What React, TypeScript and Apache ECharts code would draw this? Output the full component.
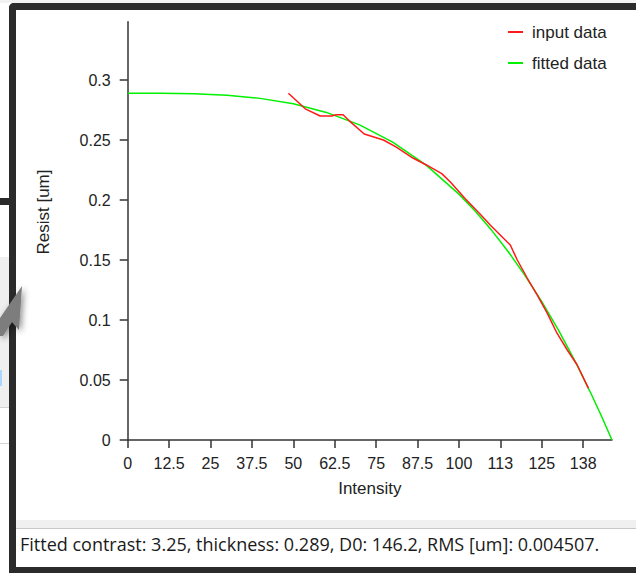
import React, { useEffect, useRef } from "react";
import * as echarts from "echarts";

// Tick values and labels
const xTickValues = [0, 12.5, 25, 37.5, 50, 62.5, 75, 87.5, 100, 112.5, 125, 137.5];
const xTickLabels = ["0", "12.5", "25", "37.5", "50", "62.5", "75", "87.5", "100", "113", "125", "138"];
const yTickValues = [0, 0.05, 0.1, 0.15, 0.2, 0.25, 0.3];
const yTickLabels = ["0", "0.05", "0.1", "0.15", "0.2", "0.25", "0.3"];

// input data (red)
const inputIntensity = [48.5, 53.6, 58.1, 61.6, 62.9, 65.0, 66.9, 71.4, 77.2, 81.1, 86.1, 90.3, 94.8, 97.4, 101.9, 106.5, 109.5, 115.5, 117.6, 120.6, 123.6, 126.6, 129.6, 132.7, 135.7, 139.1];
const inputResist = [0.289, 0.276, 0.27, 0.27, 0.271, 0.271, 0.266, 0.255, 0.25, 0.244, 0.235, 0.229, 0.222, 0.215, 0.201, 0.188, 0.179, 0.1625, 0.15, 0.135, 0.121, 0.106, 0.089, 0.075, 0.0625, 0.043];

// fitted data (green)
const fitIntensity = [0, 10, 20, 30, 40, 50, 60, 70, 80, 90, 100, 105, 110, 115, 120, 125, 130, 135, 140, 143, 146.2];
const fitResist = [0.289, 0.289, 0.2886, 0.2873, 0.2847, 0.2802, 0.273, 0.2626, 0.2483, 0.2293, 0.2049, 0.1904, 0.1743, 0.1565, 0.1368, 0.1153, 0.0917, 0.0659, 0.0379, 0.02, 0];

const seriesNames = ["input data", "fitted data"];
const xAxisName = "Intensity";
const yAxisName = "Resist [um]";
const statusText = "Fitted contrast: 3.25, thickness: 0.289, D0: 146.2, RMS [um]: 0.004507.";
const xMax = 146.2;
const yMax = 0.3486;

const W = 636;
const H = 573;
const FONT = "'Liberation Sans', Arial, sans-serif";

export default function App() {
  const ref = useRef<HTMLDivElement>(null);
  useEffect(() => {
    if (!ref.current) return;
    const chart = echarts.init(ref.current, undefined, { renderer: "svg", width: W, height: H });
    const dark = "#2b2b2b";
    const option: any = {
      animation: false,
      backgroundColor: "#ffffff",
      grid: { left: 127.7, top: 21.7, right: W - 612, bottom: H - 440, containLabel: false },
      legend: {
        orient: "vertical",
        left: 508,
        top: 22,
        padding: 0,
        itemWidth: 15,
        itemHeight: 2,
        itemGap: 11,
        icon: "rect",
        data: seriesNames,
        textStyle: { fontFamily: FONT, fontSize: 17, color: "#222", lineHeight: 20, padding: [0, 0, 0, 4] },
      },
      xAxis: {
        type: "value",
        min: 0,
        max: xMax,
        name: xAxisName,
        nameLocation: "middle",
        nameGap: 40,
        nameTextStyle: { fontFamily: FONT, fontSize: 17, color: "#222" },
        splitLine: { show: false },
        axisLine: { show: true, lineStyle: { color: "#333", width: 1.5 } },
        axisTick: { show: true, length: 8, lineStyle: { color: "#333", width: 1.5 }, customValues: xTickValues },
        axisLabel: {
          customValues: xTickValues,
          margin: 15,
          fontFamily: FONT,
          fontSize: 16,
          color: "#222",
          formatter: (v: number) => {
            const i = xTickValues.findIndex((t) => Math.abs(t - v) < 1e-6);
            return i >= 0 ? xTickLabels[i] : "";
          },
        },
      },
      yAxis: {
        type: "value",
        min: 0,
        max: yMax,
        splitLine: { show: false },
        axisLine: { show: true, lineStyle: { color: "#333", width: 1.5 } },
        axisTick: { show: true, length: 8, lineStyle: { color: "#333", width: 1.5 }, customValues: yTickValues },
        axisLabel: {
          customValues: yTickValues,
          margin: 17,
          fontFamily: FONT,
          fontSize: 16,
          color: "#222",
          formatter: (v: number) => {
            const i = yTickValues.findIndex((t) => Math.abs(t - v) < 1e-9);
            return i >= 0 ? yTickLabels[i] : "";
          },
        },
      },
      series: [
        {
          name: seriesNames[0],
          type: "line",
          data: inputIntensity.map((x, i) => [x, inputResist[i]]),
          showSymbol: false,
          symbol: "none",
          color: "#ff1a1a",
          lineStyle: { color: "#ff1a1a", width: 1.5 },
          z: 3,
        },
        {
          name: seriesNames[1],
          type: "line",
          data: fitIntensity.map((x, i) => [x, fitResist[i]]),
          showSymbol: false,
          symbol: "none",
          color: "#00f000",
          lineStyle: { color: "#00f000", width: 1.5 },
          z: 2,
        },
      ],
      graphic: [
        // outside strip on top
        { type: "rect", shape: { x: 0, y: 0, width: W, height: 3 }, style: { fill: "#f2f2f2" }, z: 0 },
        // left outside area
        { type: "rect", shape: { x: 0, y: 198, width: 9, height: 7 }, style: { fill: dark }, z: 0 },
        { type: "rect", shape: { x: 0, y: 257, width: 9, height: 150 }, style: { fill: "#efefef" }, z: 0 },
        { type: "rect", shape: { x: 0, y: 407, width: 9, height: 1 }, style: { fill: "#d4d4d4" }, z: 0 },
        { type: "rect", shape: { x: 0, y: 443, width: 9, height: 1 }, style: { fill: "#d4d4d4" }, z: 0 },
        { type: "rect", shape: { x: 0, y: 370, width: 2, height: 16 }, style: { fill: "#a8d8ff" }, z: 0 },
        // frame
        { type: "rect", shape: { x: 9, y: 3, width: W - 9, height: 7, r: [5, 0, 0, 0] }, style: { fill: dark }, z: 1 },
        { type: "rect", shape: { x: 9, y: 3, width: 7, height: H - 3, r: [5, 0, 0, 0] }, style: { fill: dark }, z: 1 },
        { type: "rect", shape: { x: 9, y: 567, width: W - 9, height: 6 }, style: { fill: dark }, z: 1 },
        // status bar
        { type: "rect", shape: { x: 16, y: 520, width: W - 16, height: 8 }, style: { fill: "#f0f0f0" }, z: 1 },
        { type: "rect", shape: { x: 16, y: 528, width: W - 16, height: 1 }, style: { fill: "#c8c8c8" }, z: 1 },
        {
          type: "text",
          x: 20,
          y: 544,
          style: { text: statusText, fill: "#1a1a1a", font: "18px 'Open Sans', 'Noto Sans', sans-serif", textAlign: "left", textVerticalAlign: "middle" },
          z: 1,
        },
        // y axis title
        {
          type: "text",
          x: 43,
          y: 212,
          rotation: Math.PI / 2,
          style: { text: yAxisName, fill: "#222", font: "17px " + FONT, textAlign: "center", textVerticalAlign: "middle" },
          z: 1,
        },
        // gray arrow
        {
          type: "polygon",
          shape: { points: [[0, 318], [22, 286], [19, 330], [12, 322], [3, 336], [0, 336]] },
          style: { fill: "#7d7d7d", shadowBlur: 6, shadowColor: "rgba(0,0,0,0.45)", shadowOffsetX: 2, shadowOffsetY: 2 },
          z: 2,
        },
      ],
    };
    chart.setOption(option);
    return () => chart.dispose();
  }, []);
  return (
    <div style={{ position: "fixed", left: 0, top: 0, width: W, height: H, background: "#fff" }}>
      <div ref={ref} style={{ width: W, height: H }} />
    </div>
  );
}
